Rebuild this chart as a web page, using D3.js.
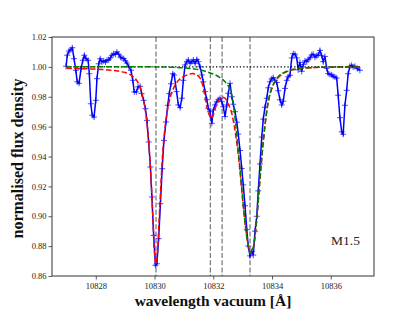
<!DOCTYPE html>
<html>
<head>
<meta charset="utf-8">
<script src="https://cdn.jsdelivr.net/npm/d3@7"></script>
<style>
  body { margin: 0; background: #fff; }
  svg text { font-family: "Liberation Serif", "DejaVu Serif", serif; }
</style>
</head>
<body>
<div id="chart"></div>
<script>
// observed spectrum
var wavelength = [10826.99,10827.03,10827.09,10827.15,10827.20,10827.26,10827.32,10827.37,10827.43,10827.50,
  10827.56,10827.61,10827.67,10827.74,10827.78,10827.83,10827.88,10827.94,10828.00,10828.04,
  10828.10,10828.15,10828.21,10828.27,10828.33,10828.38,10828.44,10828.50,10828.55,10828.61,
  10828.67,10828.72,10828.78,10828.84,10828.89,10828.95,10829.01,10829.06,10829.13,10829.20,
  10829.26,10829.31,10829.38,10829.44,10829.51,10829.56,10829.63,10829.69,10829.74,10829.80,
  10829.86,10829.91,10829.97,10830.03,10830.08,10830.14,10830.20,10830.26,10830.32,10830.39,
  10830.45,10830.50,10830.56,10830.62,10830.67,10830.75,10830.81,10830.87,10830.93,10830.98,
  10831.04,10831.10,10831.15,10831.21,10831.27,10831.32,10831.38,10831.44,10831.49,10831.55,
  10831.61,10831.66,10831.72,10831.78,10831.83,10831.89,10831.95,10832.00,10832.06,10832.12,
  10832.17,10832.23,10832.29,10832.34,10832.40,10832.46,10832.51,10832.57,10832.63,10832.68,
  10832.74,10832.80,10832.85,10832.91,10832.97,10833.02,10833.08,10833.14,10833.19,10833.25,
  10833.31,10833.36,10833.42,10833.48,10833.53,10833.59,10833.65,10833.70,10833.76,10833.82,
  10833.87,10833.93,10833.99,10834.04,10834.10,10834.16,10834.21,10834.27,10834.33,10834.38,
  10834.44,10834.50,10834.55,10834.61,10834.67,10834.72,10834.78,10834.84,10834.89,10834.95,
  10835.01,10835.06,10835.12,10835.18,10835.23,10835.29,10835.35,10835.40,10835.46,10835.52,
  10835.57,10835.63,10835.69,10835.74,10835.80,10835.86,10835.91,10835.97,10836.03,10836.08,
  10836.14,10836.20,10836.25,10836.31,10836.37,10836.42,10836.48,10836.54,10836.59,10836.65,
  10836.71,10836.76,10836.82,10836.90,10836.99];
var flux = [1.0004,1.0078,1.0106,1.0115,1.0128,1.0055,0.9977,0.9900,0.9890,0.9988,
  1.0044,1.0078,1.0055,1.0044,0.9954,0.9753,0.9676,0.9664,0.9776,0.9921,
  1.0021,1.0055,1.0033,1.0040,1.0033,1.0044,1.0048,1.0061,1.0078,1.0088,
  1.0084,1.0100,1.0085,1.0065,1.0060,1.0055,1.0040,1.0026,1.0000,0.9977,
  0.9910,0.9832,0.9832,0.9866,0.9870,0.9821,0.9776,0.9720,0.9642,0.9497,
  0.9330,0.9129,0.8872,0.8672,0.8682,0.8850,0.9084,0.9318,0.9508,0.9631,
  0.9743,0.9821,0.9887,0.9954,0.9946,0.9834,0.9745,0.9727,0.9790,0.9910,
  1.0013,1.0035,1.0046,1.0024,1.0035,1.0046,1.0024,1.0050,1.0035,1.0001,
  0.9946,0.9900,0.9834,0.9780,0.9723,0.9700,0.9622,0.9711,0.9745,0.9767,
  0.9780,0.9790,0.9767,0.9733,0.9667,0.9745,0.9823,0.9890,0.9800,0.9750,
  0.9700,0.9630,0.9550,0.9440,0.9320,0.9210,0.9070,0.8910,0.8800,0.8735,
  0.8765,0.8740,0.8900,0.9000,0.9170,0.9350,0.9530,0.9650,0.9730,0.9790,
  0.9860,0.9900,0.9920,0.9928,0.9910,0.9895,0.9840,0.9780,0.9745,0.9770,
  0.9856,0.9910,0.9934,0.9944,1.0060,1.0088,1.0085,1.0060,0.9980,1.0030,
  0.9970,1.0015,1.0040,1.0035,1.0050,1.0060,1.0080,1.0085,1.0065,1.0075,
  1.0080,1.0110,1.0075,1.0035,1.0070,0.9990,0.9955,0.9950,0.9946,0.9937,
  0.9932,0.9925,0.9810,0.9660,0.9565,0.9549,0.9743,0.9843,0.9954,1.0004,
  1.0011,0.9999,1.0004,0.9988,0.9977];

// total model (red)
var modelWave = [10827.0,10827.5,10828.0,10828.5,10828.8,10829.0,10829.2,10829.35,10829.5,10829.6,
  10829.7,10829.8,10829.9,10829.95,10830.0,10830.05,10830.1,10830.15,10830.2,10830.3,
  10830.4,10830.5,10830.6,10830.75,10830.9,10831.1,10831.3,10831.45,10831.55,10831.65,
  10831.72,10831.8,10831.88,10831.94,10832.0,10832.1,10832.2,10832.3,10832.4,10832.5,
  10832.6,10832.7,10832.8,10832.9,10833.0,10833.1,10833.2,10833.27,10833.35,10833.45,
  10833.55,10833.65,10833.75,10833.85,10833.95,10834.1,10834.3,10834.6,10835.0,10835.5,
  10836.0,10837.0];
var modelTotal = [0.9990,0.9988,0.9985,0.9978,0.9970,0.9962,0.9945,0.9920,0.9870,0.9800,
  0.9690,0.9500,0.9180,0.8960,0.8750,0.8680,0.8760,0.8950,0.9150,0.9480,
  0.9660,0.9770,0.9835,0.9895,0.9925,0.9945,0.9955,0.9945,0.9925,0.9870,
  0.9800,0.9720,0.9670,0.9655,0.9680,0.9740,0.9780,0.9797,0.9790,0.9755,
  0.9710,0.9620,0.9490,0.9320,0.9110,0.8920,0.8790,0.8750,0.8780,0.8920,
  0.9150,0.9390,0.9590,0.9740,0.9830,0.9900,0.9945,0.9975,0.9990,0.9996,
  0.9998,1.0000];

// He I model (green)
var heWave = [10827.0,10830.0,10830.5,10831.0,10831.4,10831.7,10832.0,10832.2,10832.4,10832.55,
  10832.65,10832.75,10832.8,10832.9,10833.0,10833.1,10833.2,10833.27,10833.35,10833.45,
  10833.55,10833.65,10833.75,10833.85,10833.95,10834.1,10834.3,10834.6,10835.0,10835.5,
  10836.0,10837.0];
var heModel = [1.0000,1.0000,0.9998,0.9993,0.9985,0.9972,0.9952,0.9932,0.9900,0.9860,
  0.9790,0.9640,0.9540,0.9340,0.9120,0.8925,0.8795,0.8755,0.8785,0.8925,
  0.9155,0.9395,0.9595,0.9745,0.9835,0.9905,0.9950,0.9978,0.9992,0.9997,
  0.9999,1.0000];

var continuumWave = [10827.0, 10837.0];
var continuum = [1.0, 1.0];
var lineCentres = [10830.05, 10831.90, 10832.30, 10833.25];

var xTicks = [10828, 10830, 10832, 10834, 10836];
var yTicks = [0.86, 0.88, 0.90, 0.92, 0.94, 0.96, 0.98, 1.00, 1.02];

var W = 415, H = 311;
var plot = {left: 52, right: 374, top: 37, bottom: 276};

var svg = d3.select("#chart").append("svg")
    .attr("width", W)
    .attr("height", H);

svg.append("rect").attr("width", W).attr("height", H).attr("fill", "#fff");

var x = d3.scaleLinear().domain([10826.51, 10837.47]).range([plot.left, plot.right]);
var y = d3.scaleLinear().domain([0.86, 1.02]).range([plot.bottom, plot.top]);

svg.append("defs").append("clipPath").attr("id", "clip")
  .append("rect")
    .attr("x", plot.left).attr("y", plot.top)
    .attr("width", plot.right - plot.left).attr("height", plot.bottom - plot.top);

var g = svg.append("g").attr("clip-path", "url(#clip)");

// line centres
g.selectAll("line.centre")
    .data(lineCentres)
  .enter().append("line")
    .attr("class", "centre")
    .attr("x1", function(d) { return x(d); })
    .attr("x2", function(d) { return x(d); })
    .attr("y1", plot.top)
    .attr("y2", plot.bottom)
    .attr("stroke", "#7f7f7f")
    .attr("stroke-width", 1.3)
    .attr("stroke-dasharray", "5,2.2");

var obs = wavelength.map(function(w, i) { return [w, flux[i]]; });

var lineGen = d3.line()
    .x(function(d) { return x(d[0]); })
    .y(function(d) { return y(d[1]); });

g.append("path")
    .datum(obs)
    .attr("d", lineGen)
    .attr("fill", "none")
    .attr("stroke", "#0000ff")
    .attr("stroke-width", 1.5);

// + markers
var m = 3;
g.selectAll("path.mark")
    .data(obs)
  .enter().append("path")
    .attr("class", "mark")
    .attr("d", function(d) {
      var px = x(d[0]), py = y(d[1]);
      return "M" + (px - m) + "," + py + "H" + (px + m) + "M" + px + "," + (py - m) + "V" + (py + m);
    })
    .attr("stroke", "#0000ff")
    .attr("stroke-opacity", 0.7)
    .attr("stroke-width", 1);

var smooth = d3.line()
    .curve(d3.curveCatmullRom)
    .x(function(d) { return x(d[0]); })
    .y(function(d) { return y(d[1]); });

g.append("path")
    .datum(modelWave.map(function(w, i) { return [w, modelTotal[i]]; }))
    .attr("d", smooth)
    .attr("fill", "none")
    .attr("stroke", "#ff0000")
    .attr("stroke-width", 1.5)
    .attr("stroke-dasharray", "5.5,2.4");

g.append("path")
    .datum(continuumWave.map(function(w, i) { return [w, continuum[i]]; }))
    .attr("d", lineGen)
    .attr("fill", "none")
    .attr("stroke", "#000")
    .attr("stroke-width", 1.3)
    .attr("stroke-dasharray", "1.3,2.1");

g.append("path")
    .datum(heWave.map(function(w, i) { return [w, heModel[i]]; }))
    .attr("d", smooth)
    .attr("fill", "none")
    .attr("stroke", "#008000")
    .attr("stroke-width", 1.5)
    .attr("stroke-dasharray", "5.5,2.4");

// axes
var xAxis = svg.append("g")
    .attr("transform", "translate(0," + plot.bottom + ")")
    .call(d3.axisBottom(x).tickValues(xTicks).tickSize(3.5).tickFormat(d3.format("d")));
var yAxis = svg.append("g")
    .attr("transform", "translate(" + plot.left + ",0)")
    .call(d3.axisLeft(y).tickValues(yTicks).tickSize(3.5).tickFormat(d3.format(".2f")));

[xAxis, yAxis].forEach(function(a) {
  a.select(".domain").remove();
  a.selectAll(".tick line").attr("stroke", "#333").attr("stroke-width", 0.8);
  a.selectAll(".tick text")
    .attr("fill", "#222")
    .style("font-size", "8.5px")
    .style("font-family", "'Liberation Serif', serif");
});
yAxis.selectAll(".tick text").attr("x", -5.5);

// frame
svg.append("rect")
    .attr("x", plot.left).attr("y", plot.top)
    .attr("width", plot.right - plot.left).attr("height", plot.bottom - plot.top)
    .attr("fill", "none")
    .attr("stroke", "#333")
    .attr("stroke-width", 1);

svg.append("text")
    .attr("x", (plot.left + plot.right) / 2)
    .attr("y", 306)
    .attr("text-anchor", "middle")
    .style("font-size", "15.5px")
    .style("font-weight", "bold")
    .attr("fill", "#111")
    .text("wavelength vacuum [Å]");

svg.append("text")
    .attr("transform", "translate(23," + ((plot.top + plot.bottom) / 2 + 2) + ") rotate(-90)")
    .attr("text-anchor", "middle")
    .style("font-size", "16px")
    .style("font-weight", "bold")
    .attr("fill", "#111")
    .text("normalised flux density");

svg.append("text")
    .attr("x", 360)
    .attr("y", 245)
    .attr("text-anchor", "end")
    .style("font-size", "13.5px")
    .attr("fill", "#222")
    .text("M1.5");
</script>
</body>
</html>
